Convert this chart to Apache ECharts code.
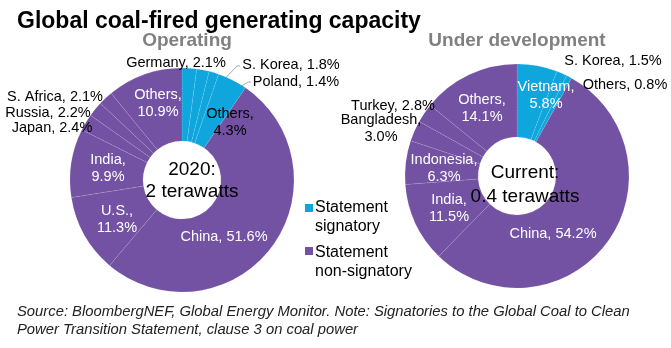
<!DOCTYPE html>
<html>
<head>
<meta charset="utf-8">
<script src="https://cdn.jsdelivr.net/npm/echarts@6/dist/echarts.min.js"></script>
<style>
html,body{margin:0;padding:0;background:#fff;}
#c{width:671px;height:348px;}
</style>
</head>
<body>
<div id="c"></div>
<script>
// ---- data ----
var opNames = ['Germany', 'S. Korea', 'Poland', 'Others', 'China', 'U.S.', 'India', 'Japan', 'Russia', 'S. Africa', 'Others'];
var opValues = [2.1, 1.8, 1.4, 4.3, 51.6, 11.3, 9.9, 2.4, 2.2, 2.1, 10.9];
var opSignatory = [true, true, true, true, false, false, false, false, false, false, false];

var devNames = ['Vietnam', 'S. Korea', 'Others', 'China', 'India', 'Indonesia', 'Bangladesh', 'Turkey', 'Others'];
var devValues = [5.8, 1.5, 0.8, 54.2, 11.5, 6.3, 3.0, 2.8, 14.1];
var devSignatory = [true, true, true, false, false, false, false, false, false];

var legendLabels = ['Statement\nsignatory', 'Statement\nnon-signatory'];
var titleText = 'Global coal-fired generating capacity';
var subTitles = ['Operating', 'Under development'];
var centerTexts = ['2020:\n2 terawatts', 'Current:\n0.4 terawatts'];
var sourceText = 'Source: BloombergNEF, Global Energy Monitor. Note: Signatories to the Global Coal to Clean\nPower Transition Statement, clause 3 on coal power';

// ---- styles / layout ----
var BLUE = '#0FA6DD';
var PURPLE = '#7352A3';
var FONT = '"Liberation Sans", Arial, sans-serif';

// label placement: [x, y, colour, twoLines, leaderLinePoints]
var opLabelLayout = [
  [176, 63, '#000', false],
  [291, 65, '#000', false, [[197, 108], [237, 66], [240, 66]]],
  [296, 82, '#000', false, [[210, 106], [248, 82], [251, 82]]],
  [230, 122.5, '#000', true],
  [224, 237, '#fff', false],
  [117, 219.5, '#fff', true],
  [108, 168.5, '#fff', true],
  [52, 128, '#000', false],
  [48, 113, '#000', false],
  [55, 97, '#000', false],
  [158, 103.5, '#fff', true]
];
var devLabelLayout = [
  [546, 95, '#fff', true],
  [613, 61, '#000', false],
  [625, 85, '#000', false],
  [553, 234, '#fff', false],
  [449, 208.5, '#fff', true],
  [444, 168, '#fff', true],
  [381, 128.5, '#000', true],
  [393, 106, '#000', false],
  [482, 108.5, '#fff', true]
];

function buildData(names, values, sig, layout) {
  return names.map(function (n, i) {
    var L = layout[i];
    return {
      name: n,
      value: values[i],
      itemStyle: { color: sig[i] ? BLUE : PURPLE },
      label: {
        color: L[2],
        formatter: n + ',' + (L[3] ? '\n' : ' ') + values[i].toFixed(1) + '%'
      },
      labelLine: { show: !!L[4] }
    };
  });
}

function makeSeries(names, values, sig, layout, center) {
  return {
    type: 'pie',
    center: center,
    radius: [39, 112],
    startAngle: 90,
    clockwise: true,
    avoidLabelOverlap: false,
    silent: true,
    animation: false,
    z: 2,
    itemStyle: {
      borderColor: 'rgba(255,255,255,0.3)',
      borderWidth: 0.5,
      borderType: 'dashed'
    },
    label: {
      show: true,
      position: 'outside',
      fontFamily: FONT,
      fontSize: 14.5,
      lineHeight: 17,
      align: 'center'
    },
    labelLine: {
      show: false,
      lineStyle: { color: '#A6A6A6', width: 1 }
    },
    labelLayout: function (p) {
      var L = layout[p.dataIndex];
      var r = { x: L[0], y: L[1], align: 'center', verticalAlign: 'middle' };
      if (L[4]) r.labelLinePoints = L[4];
      return r;
    },
    data: buildData(names, values, sig, layout)
  };
}

var chart = echarts.init(document.getElementById('c'), null, { renderer: 'canvas' });
chart.setOption({
  backgroundColor: '#fff',
  animation: false,
  series: [
    makeSeries(opNames, opValues, opSignatory, opLabelLayout, [182, 180]),
    makeSeries(devNames, devValues, devSignatory, devLabelLayout, [517, 176])
  ],
  graphic: [
    { type: 'text', z: 100, left: 17, top: 10, style: { text: titleText, font: 'bold 23px ' + FONT, fill: '#000' } },
    { type: 'text', z: 100, x: 187, y: 41, style: { text: subTitles[0], font: 'bold 19px ' + FONT, fill: '#808080', align: 'center', verticalAlign: 'middle' } },
    { type: 'text', z: 100, x: 517, y: 41, style: { text: subTitles[1], font: 'bold 19px ' + FONT, fill: '#808080', align: 'center', verticalAlign: 'middle' } },
    { type: 'text', z: 100, x: 192, y: 181, style: { text: centerTexts[0], font: '19px ' + FONT, lineHeight: 22, fill: '#000', align: 'center', verticalAlign: 'middle' } },
    { type: 'text', z: 100, x: 525, y: 185, style: { text: centerTexts[1], font: '19px ' + FONT, lineHeight: 24, fill: '#000', align: 'center', verticalAlign: 'middle' } },
    { type: 'rect', z: 100, shape: { x: 305, y: 204, width: 8, height: 8 }, style: { fill: BLUE } },
    { type: 'text', z: 100, x: 315, y: 217.5, style: { text: legendLabels[0], font: '16px ' + FONT, lineHeight: 19, fill: '#000', align: 'left', verticalAlign: 'middle' } },
    { type: 'rect', z: 100, shape: { x: 305, y: 247, width: 8, height: 8 }, style: { fill: PURPLE } },
    { type: 'text', z: 100, x: 315, y: 262, style: { text: legendLabels[1], font: '16px ' + FONT, lineHeight: 19, fill: '#000', align: 'left', verticalAlign: 'middle' } },
    { type: 'text', z: 100, x: 17, y: 321, style: { text: sourceText, font: 'italic 14.8px ' + FONT, lineHeight: 17.5, fill: '#222', align: 'left', verticalAlign: 'middle' } }
  ]
});
</script>
</body>
</html>
